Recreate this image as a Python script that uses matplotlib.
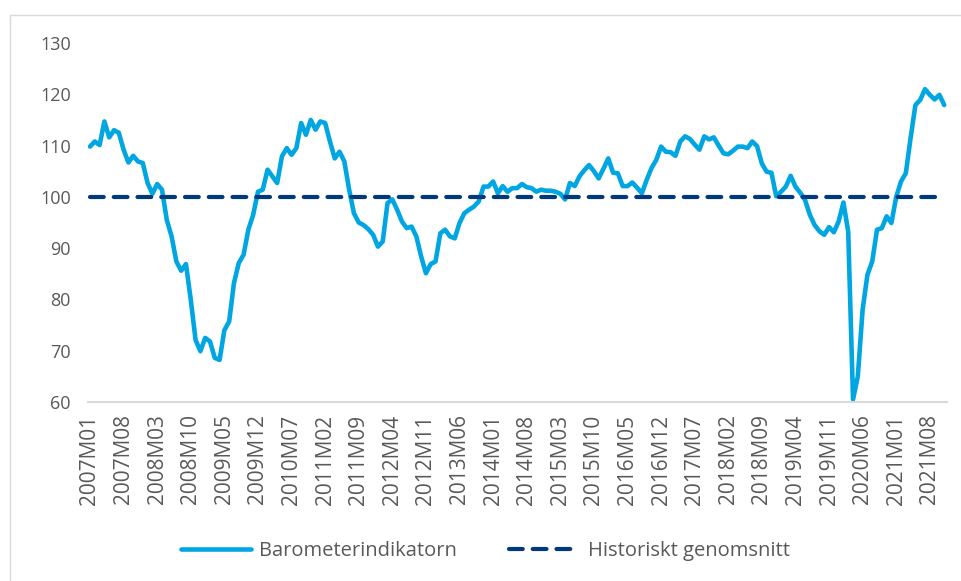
import matplotlib.pyplot as plt
from matplotlib.patches import Rectangle

# månadsetiketter 2007M01 .. 2021M11
manader = ['{0}M{1:02d}'.format(2007 + k // 12, k % 12 + 1) for k in range(179)]

barometer = [
    109.8, 110.8, 110.1, 114.7, 111.6, 113.0, 112.5, 109.2, 106.7, 108.0,
    106.9, 106.6, 102.7, 100.6, 102.5, 101.4, 95.5, 92.3, 87.4, 85.6,
    86.9, 79.9, 72.1, 69.9, 72.5, 71.8, 68.6, 68.2, 74.0, 75.7,
    83.2, 87.1, 88.7, 93.6, 96.5, 101.0, 101.4, 105.3, 104.0, 102.7,
    107.9, 109.5, 108.2, 109.5, 114.4, 112.1, 115.0, 113.1, 114.7, 114.4,
    110.8, 107.5, 108.8, 106.9, 101.4, 96.8, 95.0, 94.5, 93.7, 92.6,
    90.3, 91.3, 98.8, 99.5, 97.5, 95.2, 93.9, 94.2, 92.3, 88.4,
    85.1, 86.9, 87.4, 92.9, 93.6, 92.3, 91.9, 94.9, 96.8, 97.5,
    98.1, 99.1, 102.0, 102.0, 103.0, 100.7, 102.1, 101.0, 101.7, 101.7,
    102.5, 101.9, 101.7, 101.0, 101.4, 101.2, 101.2, 101.0, 100.6, 99.5,
    102.7, 102.1, 104.0, 105.2, 106.2, 105.0, 103.6, 105.5, 107.5, 104.7,
    104.6, 102.1, 102.1, 102.8, 101.8, 100.7, 103.3, 105.6, 107.2, 109.8,
    108.8, 108.7, 108.0, 110.8, 111.8, 111.3, 110.2, 109.2, 111.8, 111.2,
    111.6, 110.0, 108.5, 108.3, 109.0, 109.8, 109.8, 109.5, 110.8, 109.9,
    106.5, 104.9, 104.7, 100.1, 101.0, 102.0, 104.1, 102.0, 100.8, 99.4,
    96.5, 94.5, 93.3, 92.6, 94.1, 93.1, 95.2, 98.9, 93.2, 60.5,
    65.0, 78.0, 84.8, 87.4, 93.6, 93.9, 96.2, 94.9, 100.0, 103.0,
    104.6, 111.5, 117.9, 118.9, 121.0, 119.9, 119.0, 119.9, 117.9,
]
historiskt = [100] * len(manader)

plt.rcParams['font.family'] = ['Open Sans', 'DejaVu Sans']
gra = '#595959'

fig = plt.figure(figsize=(9.61, 5.81), dpi=100)
ax = fig.add_axes([87.6 / 961, 1 - 402 / 581, 859 / 961, 359 / 581])

# ram runt diagrammet
fig.patches.append(Rectangle((10 / 961, -0.1), 1.2, 1 - 15 / 581 + 0.1,
                             transform=fig.transFigure, fill=False,
                             edgecolor='#D9D9D9', linewidth=1))

x = list(range(len(manader)))
ax.plot(x, barometer, color='#00A6E2', linewidth=3.3,
        solid_capstyle='round', solid_joinstyle='round',
        label='Barometerindikatorn')
ax.plot(x, historiskt, color='#003A7D', linewidth=3.0,
        dashes=(3.3, 2.4), dash_capstyle='round',
        label='Historiskt genomsnitt')

ax.set_xlim(-0.5, len(manader) - 0.5)
ax.set_ylim(60, 130)
ax.set_yticks(range(60, 131, 10))
ax.set_xticks(x[::7])
ax.set_xticklabels(manader[::7], rotation=90)

for s in ['top', 'right', 'left']:
    ax.spines[s].set_visible(False)
ax.spines['bottom'].set_color('#D9D9D9')
ax.spines['bottom'].set_linewidth(1.5)
ax.tick_params(axis='both', length=0, colors=gra)
ax.tick_params(axis='y', pad=12, labelsize=13)
ax.tick_params(axis='x', pad=9, labelsize=15)

leg = fig.legend(loc='center', bbox_to_anchor=(0.505, 1 - 551 / 581), ncol=2,
                 frameon=False, fontsize=14.5, handlelength=3.5,
                 handletextpad=0.4, columnspacing=2.6)
for t in leg.get_texts():
    t.set_color(gra)

fig.savefig('out.png', dpi=100)
